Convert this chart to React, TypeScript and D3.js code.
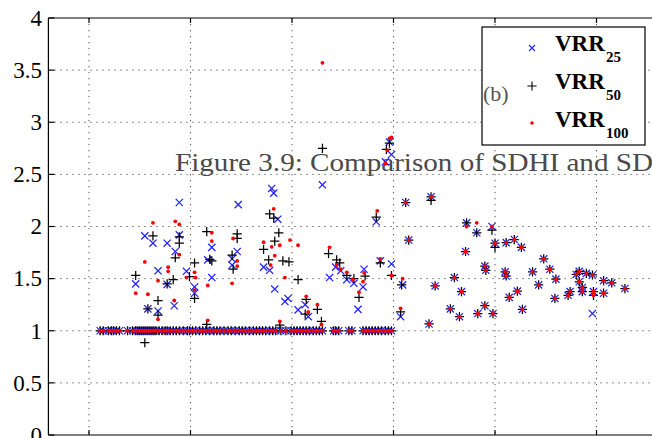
import React from 'react';
import * as d3 from 'd3';

// y axis ticks
const yTicks = [0, 0.5, 1, 1.5, 2, 2.5, 3, 3.5, 4];
const yTickLabels = ['0', '0.5', '1', '1.5', '2', '2.5', '3', '3.5', '4'];
// x axis grid ticks (labels cut off in the reference)
const xTicks = [0, 100, 200, 300, 400, 500];

// samples where all three ratios equal 1
const bandX = [11, 14, 19, 22, 24, 27, 30, 38, 43, 46, 48, 50, 52, 54, 56, 58, 60, 62, 64, 66, 69, 72, 75, 77, 80, 83, 86, 89, 93, 97, 99, 102, 105, 109, 112, 115, 119, 123, 126, 129, 133, 137, 140, 144, 148, 151, 154, 158, 162, 165, 168, 171, 174, 178, 181, 184, 189, 194, 199, 202, 205, 208, 211, 214, 217, 221, 224, 227, 230, 241, 243, 246, 256, 259, 270, 273, 276, 279, 282, 285, 288, 292, 295, 298];

// samples where all three ratios coincide
const commonX = [312, 315, 335, 337, 341, 356, 360, 365, 367, 371, 383, 390, 390, 391, 398, 400, 410, 411, 411, 414, 419, 422, 426, 427, 437, 443, 448, 454, 459, 460, 472, 474, 480, 483, 483, 486, 486, 490, 496, 497, 507, 507, 515, 528];
const commonY = [2.23, 1.87, 1.065, 2.285, 1.43, 1.21, 1.51, 1.135, 1.375, 1.76, 1.165, 1.24, 1.62, 1.58, 1.165, 1.84, 1.565, 1.525, 1.845, 1.32, 1.875, 1.38, 1.80, 1.205, 1.565, 1.44, 1.69, 1.59, 1.31, 1.495, 1.34, 1.375, 1.54, 1.57, 1.47, 1.415, 1.375, 1.55, 1.535, 1.375, 1.48, 1.36, 1.46, 1.405];

// VRR25 other samples
const vrr25X = [46, 55, 58, 63, 68, 68, 77, 77, 84, 85, 89, 89, 96, 104, 104, 117, 121, 121, 141, 141, 146, 147, 172, 178, 180, 182, 183, 186, 196, 193, 206, 213, 216, 230, 237, 243, 248, 254, 261, 265, 271, 270, 283, 287, 292, 296, 298, 298, 307, 309, 372, 382, 397, 496];
const vrr25Y = [1.45, 1.91, 1.21, 1.84, 1.575, 1.19, 1.84, 1.445, 1.24, 1.76, 1.92, 2.23, 1.57, 1.42, 1.36, 1.68, 1.80, 1.51, 1.69, 1.63, 1.76, 2.21, 1.61, 1.58, 2.365, 2.32, 1.40, 2.07, 1.31, 1.28, 1.20, 1.25, 1.135, 2.40, 1.51, 1.61, 1.575, 1.49, 1.455, 1.205, 1.59, 1.42, 2.045, 1.67, 2.62, 2.81, 2.69, 1.64, 1.135, 1.44, 2.035, 1.94, 2.00, 1.165];

// VRR50 other samples
const vrr50X = [46, 55, 58, 63, 68, 68, 77, 83, 85, 89, 89, 99, 104, 104, 116, 119, 121, 116, 141, 142, 146, 146, 172, 177, 178, 182, 183, 187, 191, 197, 206, 188, 214, 213, 225, 229, 230, 236, 244, 247, 254, 261, 272, 266, 283, 287, 293, 296, 298, 307, 308, 372, 382, 397, 400, 497, 337];
const vrr50Y = [1.53, 0.885, 1.21, 1.91, 1.29, 1.15, 1.45, 1.49, 1.70, 1.90, 1.84, 1.52, 1.65, 1.31, 1.95, 1.685, 1.67, 1.06, 1.725, 1.59, 1.93, 1.885, 1.78, 1.68, 2.12, 2.08, 1.86, 1.94, 1.67, 1.66, 1.49, 1.055, 1.30, 1.16, 1.205, 1.09, 2.75, 1.74, 1.68, 1.65, 1.53, 1.50, 1.525, 1.32, 2.09, 1.65, 2.74, 2.80, 1.53, 1.18, 1.44, 2.035, 1.94, 1.965, 1.80, 1.34, 2.25];

// VRR100 other samples
const vrr100X = [46, 55, 58, 63, 68, 68, 78, 78, 84, 85, 89, 89, 96, 105, 104, 104, 117, 117, 121, 121, 141, 142, 146, 146, 172, 180, 182, 179, 183, 188, 193, 198, 206, 188, 214, 216, 225, 229, 230, 237, 244, 248, 254, 260, 271, 270, 266, 284, 287, 292, 294, 296, 298, 298, 307, 309, 372, 382, 397, 497];
const vrr100Y = [1.36, 1.66, 1.35, 2.035, 1.48, 1.11, 1.61, 1.57, 1.29, 2.05, 2.02, 1.73, 1.51, 1.51, 1.56, 1.39, 1.435, 1.10, 1.94, 1.86, 1.455, 1.885, 1.67, 1.62, 1.85, 1.805, 2.17, 1.63, 1.72, 1.82, 1.51, 1.87, 1.82, 1.09, 1.33, 1.18, 1.25, 1.06, 3.57, 1.80, 1.63, 1.59, 1.56, 1.495, 1.555, 1.47, 1.37, 2.15, 1.69, 2.605, 2.73, 2.845, 2.855, 1.53, 1.215, 1.50, 2.00, 2.035, 2.00, 1.34];

const legendLabels = ['25', '50', '100'];

type P = [number, number];
function build(xs: number[], ys: number[]): P[] {
  const pts: P[] = bandX.map((v) => [v, 1] as P);
  commonX.forEach((v, i) => pts.push([v, commonY[i]]));
  xs.forEach((v, i) => pts.push([v, ys[i]]));
  return pts;
}

const SERIF = '"Liberation Serif", "DejaVu Serif", serif';

export default function App() {
  const W = 652;
  const H = 438;
  const x = d3.scaleLinear().domain([-40, 560]).range([48.4, 657.4]);
  const y = d3.scaleLinear().domain([0, 4]).range([435, 18]);
  const left = x(-40);
  const right = x(560);
  const top = y(4);
  const bottom = y(0);

  const s25 = build(vrr25X, vrr25Y);
  const s50 = build(vrr50X, vrr50Y);
  const s100 = build(vrr100X, vrr100Y);

  const xs = 3.6;
  const ps = 4.6;
  const xPath = `M${-xs},${-xs}L${xs},${xs}M${-xs},${xs}L${xs},${-xs}`;
  const pPath = `M${-ps},0H${ps}M0,${-ps}V${ps}`;

  return (
    <svg
      width={W}
      height={H}
      style={{ position: 'absolute', left: 0, top: 0, background: '#fff' }}
      fontFamily={SERIF}
    >
      <rect x={0} y={0} width={W} height={H} fill="#fff" />
      {/* grid */}
      <g stroke="#555" strokeWidth={1} strokeDasharray="1.3 4.7">
        {yTicks.filter((t) => t > 0 && t < 4).map((t) => (
          <line key={'gy' + t} x1={left} x2={right} y1={y(t)} y2={y(t)} />
        ))}
        {xTicks.map((t) => (
          <line key={'gx' + t} x1={x(t)} x2={x(t)} y1={top} y2={bottom} />
        ))}
      </g>
      {/* axes box */}
      <g stroke="#000" strokeWidth={1.2} fill="none">
        <line x1={left} x2={right} y1={top} y2={top} />
        <line x1={left} x2={right} y1={bottom} y2={bottom} />
        <line x1={left} x2={left} y1={top} y2={bottom} />
        {yTicks.map((t) => (
          <line key={'ty' + t} x1={left} x2={left + 6} y1={y(t)} y2={y(t)} />
        ))}
        {xTicks.map((t) => (
          <g key={'tx' + t}>
            <line x1={x(t)} x2={x(t)} y1={top} y2={top + 5} />
            <line x1={x(t)} x2={x(t)} y1={bottom} y2={bottom - 5} />
          </g>
        ))}
      </g>
      {/* tick labels */}
      <g fontSize={23} textAnchor="end" fill="#000" fontFamily={SERIF}>
        {yTicks.map((t, i) => (
          <text key={'l' + t} x={42} y={y(t)} dy="0.34em">
            {yTickLabels[i]}
          </text>
        ))}
      </g>
      {/* overlay caption text from the page */}
      <text x={175} y={170.5} fontSize={26} fill="#4a4a4a" fontFamily={SERIF} textLength={478} lengthAdjust="spacingAndGlyphs">
        Figure 3.9: Comparison of SDHI and SD
      </text>
      {/* markers */}
      <g stroke="#2222ff" strokeWidth={1.25} fill="none">
        {s25.map((p, i) => (
          <path key={'b' + i} d={xPath} transform={`translate(${x(p[0])},${y(p[1])})`} />
        ))}
      </g>
      <g stroke="#000" strokeWidth={1.25} fill="none">
        {s50.map((p, i) => (
          <path key={'k' + i} d={pPath} transform={`translate(${x(p[0])},${y(p[1])})`} />
        ))}
      </g>
      <g fill="#ff0000">
        {s100.map((p, i) => (
          <circle key={'r' + i} cx={x(p[0])} cy={y(p[1])} r={1.9} />
        ))}
      </g>
      {/* legend */}
      <rect x={482} y={27} width={163} height={118} fill="#fff" stroke="#000" strokeWidth={1.2} />
      <text x={483} y={101} fontSize={22} fill="#555" fontFamily={SERIF}>(b)</text>
      <path d={`M-3,-3L3,3M-3,3L3,-3`} transform="translate(532,48)" stroke="#2222ff" strokeWidth={1.1} fill="none" />
      <path d={pPath} transform="translate(532,86)" stroke="#000" strokeWidth={1.1} fill="none" />
      <circle cx={532} cy={123} r={1.8} fill="#ff0000" />
      {legendLabels.map((lab, i) => (
        <g key={lab} fontWeight="bold" fill="#000" fontFamily={SERIF}>
          <text x={555} y={50.5 + i * 38} fontSize={23}>VRR</text>
          <text x={606} y={62 + i * 38} fontSize={15}>{lab}</text>
        </g>
      ))}
    </svg>
  );
}
